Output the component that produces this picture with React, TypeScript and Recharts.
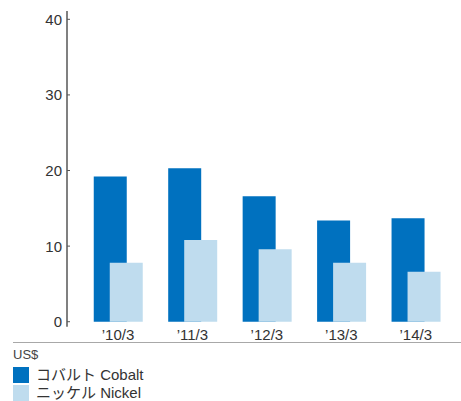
import { Bar, BarChart, XAxis, YAxis } from "recharts";

const CATEGORIES = ["’10/3", "’11/3", "’12/3", "’13/3", "’14/3"];
const COBALT = [19.2, 20.3, 16.6, 13.4, 13.7];
const NICKEL = [7.8, 10.8, 9.6, 7.8, 6.6];
const Y_TICKS = [0, 10, 20, 30, 40];

const COBALT_COLOR = "#0071bf";
const NICKEL_COLOR = "#bfdcee";
const TEXT_COLOR = "#333333";
const FONT = '"Liberation Sans", Arial, sans-serif';

const data = CATEGORIES.map((name, i) => ({
  name,
  cobalt: COBALT[i],
  nickel: NICKEL[i],
}));

// y tick: label on the left, short tick mark inside the axis
function YTick({ x, y, payload }: any) {
  return (
    <g>
      <line x1={x + 5} x2={x + 8} y1={y} y2={y} stroke="#555" strokeWidth={1} />
      <text
        x={x}
        y={y}
        dy="0.36em"
        textAnchor="end"
        fontSize={15}
        fill={TEXT_COLOR}
        fontFamily={FONT}
      >
        {payload.value}
      </text>
    </g>
  );
}

const legendItems = [
  { label: "コバルト Cobalt", color: COBALT_COLOR },
  { label: "ニッケル Nickel", color: NICKEL_COLOR },
];

export default function App() {
  return (
    <div
      style={{
        position: "absolute",
        left: 0,
        top: 0,
        width: 461,
        height: 401,
        background: "#fff",
        fontFamily: FONT,
        overflow: "hidden",
      }}
    >
      <BarChart
        width={461}
        height={345}
        data={data}
        margin={{ top: 11, right: 8, left: 0, bottom: 0 }}
        barSize={33}
        barGap={-17}
      >
        <YAxis
          width={67}
          domain={[-0.66, 41.1]}
          ticks={Y_TICKS}
          allowDataOverflow
          tickSize={0}
          tickMargin={5}
          tick={<YTick />}
          axisLine={{ stroke: "#808080", strokeWidth: 2 }}
        />
        <XAxis
          dataKey="name"
          height={18.3}
          padding={{ left: 13.75, right: 0 }}
          axisLine={false}
          tickLine={false}
          tickSize={0}
          tickMargin={3}
          tick={{ fontSize: 15, fill: TEXT_COLOR, fontFamily: FONT }}
          interval={0}
        />
        <Bar dataKey="cobalt" fill={COBALT_COLOR} isAnimationActive={false} />
        <Bar dataKey="nickel" fill={NICKEL_COLOR} isAnimationActive={false} />
      </BarChart>
      <div
        style={{
          position: "absolute",
          left: 13,
          top: 342,
          width: 448,
          borderTop: "1.5px solid #a8a8a8",
        }}
      />
      <div
        style={{
          position: "absolute",
          left: 13,
          top: 347,
          fontSize: 13,
          lineHeight: "15px",
          color: "#444",
        }}
      >
        US$
      </div>
      {legendItems.map((item, i) => (
        <div
          key={item.label}
          style={{
            position: "absolute",
            left: 13,
            top: 367 + i * 18,
            display: "flex",
            alignItems: "center",
            height: 16,
          }}
        >
          <span
            style={{
              width: 16,
              height: 16,
              background: item.color,
              display: "inline-block",
            }}
          />
          <span
            style={{
              marginLeft: 7,
              fontSize: 15,
              lineHeight: "16px",
              color: TEXT_COLOR,
              fontFamily: '"Liberation Sans", "Noto Sans CJK JP", sans-serif',
              whiteSpace: "nowrap",
            }}
          >
            {item.label}
          </span>
        </div>
      ))}
    </div>
  );
}
